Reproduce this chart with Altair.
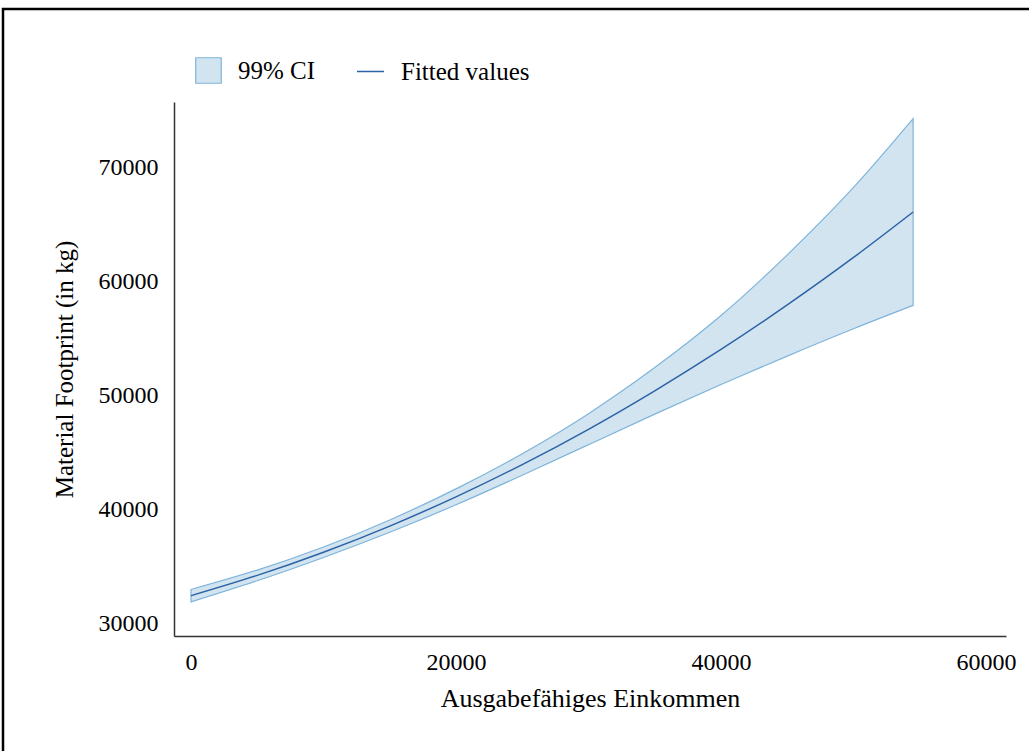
import altair as alt
import pandas as pd

# Quadratic fit of material footprint on disposable income, with 99% confidence band
income = [0, 5000, 10000, 15000, 20000, 25000, 30000, 35000, 40000, 45000, 50000, 54500]
fitted = [32400, 34180, 36210, 38510, 41080, 43910, 47010, 50390, 54020, 57930, 62100, 66090]
ci_low = [31855, 33710, 35750, 37970, 40380, 42980, 45660, 48340, 50940, 53440, 55840, 57890]
ci_high = [32945, 34650, 36670, 39050, 41780, 44860, 48380, 52430, 57000, 62330, 68250, 74290]

x_ticks = [0, 20000, 40000, 60000]
y_ticks = [30000, 40000, 50000, 60000, 70000]

df = pd.DataFrame({
    "income": income,
    "fitted": fitted,
    "low": ci_low,
    "high": ci_high,
    "band": "99% CI",
    "line": "Fitted values",
})

FONT = "Liberation Serif"
PAD_L, PAD_T, PAD_R, PAD_B = 174, 102, 23, 115
W, H = 1029 - PAD_L - PAD_R, 751 - PAD_T - PAD_B

x_scale = alt.Scale(domain=[-1283, 61509], nice=False, zero=False)
y_scale = alt.Scale(domain=[28859, 75751], nice=False, zero=False)

x_axis = alt.Axis(
    values=x_ticks, title="Ausgabefähiges Einkommen", grid=False, ticks=False,
    domainColor="#333333", domainWidth=1.5, labelPadding=14, titlePadding=11,
    labelFont=FONT, titleFont=FONT, labelFontSize=24, titleFontSize=26,
    labelColor="black", titleColor="black", titleFontWeight="normal", format="d",
)
y_axis = alt.Axis(
    values=y_ticks, title="Material Footprint (in kg)", grid=False, ticks=False,
    domainColor="#333333", domainWidth=1.5, labelPadding=16, titlePadding=21,
    labelFont=FONT, titleFont=FONT, labelFontSize=24, titleFontSize=25,
    labelColor="black", titleColor="black", titleFontWeight="normal", format="d",
)

band = alt.Chart(df).mark_area(
    interpolate="natural", fillOpacity=1, stroke="#7fb4da", strokeWidth=1.2
).encode(
    x=alt.X("income:Q", scale=x_scale, axis=x_axis),
    y=alt.Y("low:Q", scale=y_scale, axis=y_axis),
    y2="high:Q",
    fill=alt.Fill(
        "band:N",
        scale=alt.Scale(domain=["99% CI"], range=["#d1e4f0"]),
        legend=alt.Legend(
            title=None, orient="none", legendX=21, legendY=-45, padding=0,
            symbolType="square", symbolSize=650, symbolStrokeColor="#7fb4da",
            symbolStrokeWidth=1.2, symbolOpacity=1, labelFont=FONT,
            labelFontSize=25, labelColor="black", labelOffset=16,
        ),
    ),
)

fit_line = alt.Chart(df).mark_line(
    interpolate="natural", strokeWidth=1.5
).encode(
    x=alt.X("income:Q", scale=x_scale),
    y=alt.Y("fitted:Q", scale=y_scale),
    stroke=alt.Stroke(
        "line:N",
        scale=alt.Scale(domain=["Fitted values"], range=["#2c62a6"]),
        legend=alt.Legend(
            title=None, orient="none", legendX=182, legendY=-45, padding=0,
            symbolType="stroke", symbolSize=729, symbolStrokeWidth=1.5,
            labelFont=FONT, labelFontSize=25, labelColor="black", labelOffset=16,
        ),
    ),
)

# outer frame of the figure
frame = alt.Chart(pd.DataFrame({"k": [0]})).mark_rect(
    fill=None, stroke="black", strokeWidth=2.5, clip=False
).encode(
    x=alt.value(3 - PAD_L), x2=alt.value(1045 - PAD_L),
    y=alt.value(9 - PAD_T), y2=alt.value(770 - PAD_T),
)

chart = alt.layer(band, fit_line, frame).resolve_legend(
    fill="independent", stroke="independent"
).properties(
    width=W, height=H,
    autosize=alt.AutoSizeParams(type="none"),
    padding={"left": PAD_L, "top": PAD_T, "right": PAD_R, "bottom": PAD_B},
    background="white",
).configure_view(stroke=None)

chart.save("out.html", embed_options={"renderer": "svg", "actions": False})
